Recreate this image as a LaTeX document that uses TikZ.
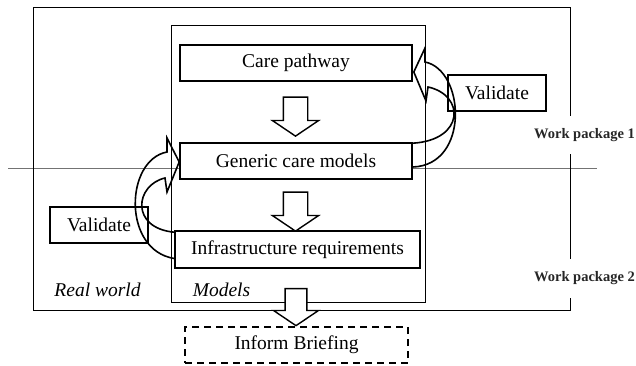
\documentclass[tikz,border=0pt]{standalone}
\usepackage{fontspec}
\setmainfont{Liberation Serif}
\usetikzlibrary{shapes.arrows}
\begin{document}
\begin{tikzpicture}[x=1pt,y=-1pt,
    stage/.style ={draw, line width=1.6pt, fill=white, minimum height=36pt, inner sep=0pt, font=\fontsize{19.5}{23}\selectfont},
    wp/.style ={fill=white, inner xsep=0pt, inner ysep=12.5pt, font=\fontsize{14.5}{17}\selectfont\bfseries, text=black!85},
    area/.style ={inner sep=0pt, font=\fontsize{19.5}{23}\selectfont\itshape},
    downarrow/.style ={single arrow, draw, line width=1.4pt, fill=white, rotate=-90, inner xsep=0pt, inner ysep=11.5pt,
      minimum height=39pt, minimum width=45pt, single arrow head extend=11pt, single arrow tip angle=112},
    curvearrow/.style ={line width=1.6pt, line join=miter}]
   \useasboundingbox (0,0) rectangle (636,366);
   % frames
   \draw[black!55, line width=0.8pt] (8,168) -- (597,168);
   \draw[line width=0.8pt] (33,7) rectangle (570,310);
   \draw[line width=0.8pt] (171,25) rectangle (425,302);
   \node[area] (real) at (97.5,290) {Real world};
   \node[area] (models) at (221.5,290) {Models};
   \node[wp] (wp1) at (584.5,135) {Work package 1};
   \node[wp] (wp2) at (584.5,278.5) {Work package 2};
   % boxes
   \node[stage, minimum width=232pt] (care)  at (296,63)  {Care pathway};
   \node[stage, minimum width=232pt] (gen)   at (296,161) {Generic care models};
   \node[stage, minimum width=245pt, minimum height=37pt] (infra) at (297.5,249.5) {Infrastructure requirements};
   \node[stage, minimum width=98pt] (valR)  at (497,93)  {Validate};
   \node[stage, minimum width=98pt] (valL)  at (99,225)  {Validate};
   \node[stage, minimum width=223pt, dash pattern=on 7pt off 5pt] (brief) at (296.5,345) {Inform Briefing};
   % block arrows
   \node[downarrow] (a1) at (295.5,112.5) {};
   \node[downarrow] (a2) at (295.5,207.5) {};
   \node[downarrow, inner ysep=9.5pt, minimum height=37pt] (a3) at (296,303.5) {};
   % validation loops
   \draw[curvearrow] ([yshift=-6pt]gen.east) .. controls (470,165) and (465,70) .. (425,62)
     -- (425,48) -- ([xshift=1pt,yshift=-9pt]care.east) -- (426,101) -- (428,87)
     .. controls (465,95) and (465,140) .. ([yshift=-1pt]gen.north east);
   \draw[curvearrow] ([yshift=-9pt]infra.west) .. controls (122,250) and (125,160) .. (167,152)
     -- (167,138) -- ([yshift=-1pt]gen.west) -- (167,192) -- (165,178)
     .. controls (135,185) and (130,228) .. ([yshift=-2pt]infra.north west);
 \end{tikzpicture}
\end{document}
